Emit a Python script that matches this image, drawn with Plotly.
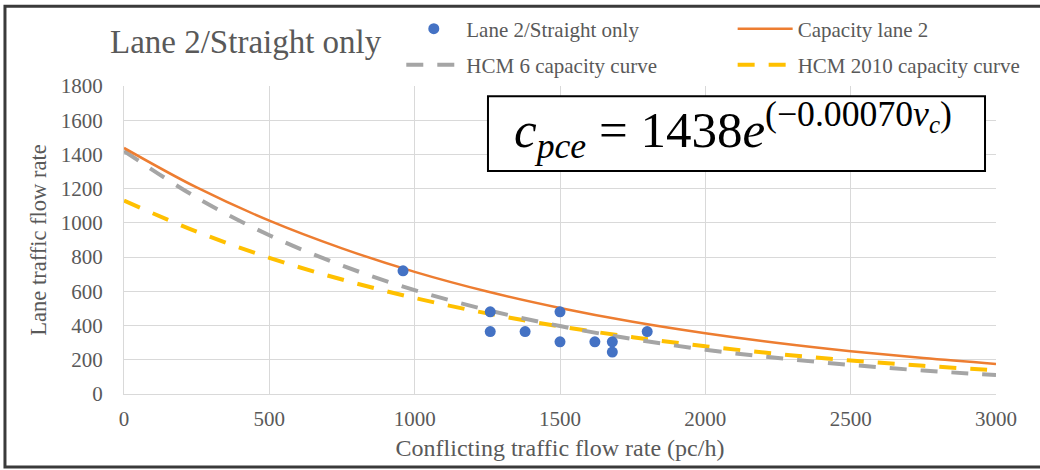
import plotly.graph_objects as go

# Observed data points
obs_x = [960, 1260, 1260, 1380, 1500, 1500, 1620, 1680, 1680, 1800]
obs_y = [720, 480, 365, 365, 480, 305, 305, 305, 245, 365]

# Curves
curve_x = [0, 250, 500, 750, 1000, 1250, 1500, 1750, 2000, 2250, 2500, 2750, 3000]
cap_lane2 = [1438, 1207, 1013, 851, 714, 599, 503, 422, 355, 298, 250, 210, 176]
hcm6 = [1420, 1148, 928, 751, 607, 491, 397, 321, 259, 210, 170, 137, 111]
hcm2010 = [1130, 949, 796, 669, 561, 471, 395, 332, 279, 234, 196, 165, 138]

x_ticks = [0, 500, 1000, 1500, 2000, 2500, 3000]
y_ticks = [0, 200, 400, 600, 800, 1000, 1200, 1400, 1600, 1800]

FONT = "Liberation Serif"
GRAY = "#595959"

fig = go.Figure()
fig.add_trace(go.Scatter(x=curve_x, y=hcm2010, mode="lines", name="HCM 2010 capacity curve",
                         line=dict(color="#FFC000", width=4, dash="17px,14px", shape="spline"),
                         legend="legend4"))
fig.add_trace(go.Scatter(x=curve_x, y=hcm6, mode="lines", name="HCM 6 capacity curve",
                         line=dict(color="#A5A5A5", width=4, dash="17px,14px", shape="spline"),
                         legend="legend3"))
fig.add_trace(go.Scatter(x=curve_x, y=cap_lane2, mode="lines", name="Capacity lane 2",
                         line=dict(color="#ED7D31", width=2.5, shape="spline"),
                         legend="legend2"))
fig.add_trace(go.Scatter(x=obs_x, y=obs_y, mode="markers", name="Lane 2/Straight only",
                         marker=dict(color="#4472C4", size=11),
                         legend="legend"))


def leg(x, y):
    return dict(x=x, y=y, orientation="h", xanchor="left", yanchor="middle",
                font=dict(family=FONT, size=21, color=GRAY),
                itemwidth=55, bgcolor="rgba(0,0,0,0)")


fig.update_layout(
    width=1040, height=470,
    margin=dict(l=124, r=44, t=86, b=76, autoexpand=False),
    paper_bgcolor="white", plot_bgcolor="white",
    showlegend=True,
    legend=leg(0.318, 1.185),
    legend2=leg(0.698, 1.185),
    legend3=leg(0.318, 1.068),
    legend4=leg(0.698, 1.068),
    xaxis=dict(range=[0, 3000], tickvals=x_ticks, showgrid=True, gridcolor="#D9D9D9",
               zeroline=False, showline=True, linecolor="#D9D9D9",
               tickfont=dict(family=FONT, size=21, color=GRAY),
               ticks="outside", ticklen=6, tickcolor="rgba(0,0,0,0)",
               title=dict(text="Conflicting traffic flow rate (pc/h)",
                          font=dict(family=FONT, size=24, color=GRAY), standoff=8)),
    yaxis=dict(range=[0, 1800], tickvals=y_ticks, showgrid=True, gridcolor="#D9D9D9",
               zeroline=False, showline=True, linecolor="#D9D9D9",
               tickfont=dict(family=FONT, size=21, color=GRAY), ticks="outside",
               ticklen=16, tickcolor="rgba(0,0,0,0)",
               title=dict(text="Lane traffic flow rate",
                          font=dict(family=FONT, size=22.5, color=GRAY), standoff=7)),
    shapes=[
        dict(type="rect", xref="paper", yref="paper", x0=-0.1365, x1=1.07,
             y0=-0.237, y1=1.259, line=dict(color="#3a3a3a", width=3), layer="above"),
        dict(type="rect", xref="paper", yref="paper", x0=0.4174, x1=0.9874,
             y0=0.724, y1=0.967, line=dict(color="black", width=2),
             fillcolor="white", layer="above"),
    ],
    annotations=[
        dict(text="Lane 2/Straight only", xref="paper", yref="paper",
             x=-0.018, y=1.143, xanchor="left", yanchor="middle", showarrow=False,
             font=dict(family=FONT, size=33, color=GRAY)),
        dict(text="<i>c</i><sub><i>pce</i></sub> = 1438<i>e</i><sup>(−0.00070<i>v</i><sub><i>c</i></sub>)</sup>",
             xref="paper", yref="paper", x=0.698, y=0.857, xanchor="center", yanchor="middle",
             showarrow=False, font=dict(family=FONT, size=51, color="black")),
    ],
)

fig.write_html("out.html")
